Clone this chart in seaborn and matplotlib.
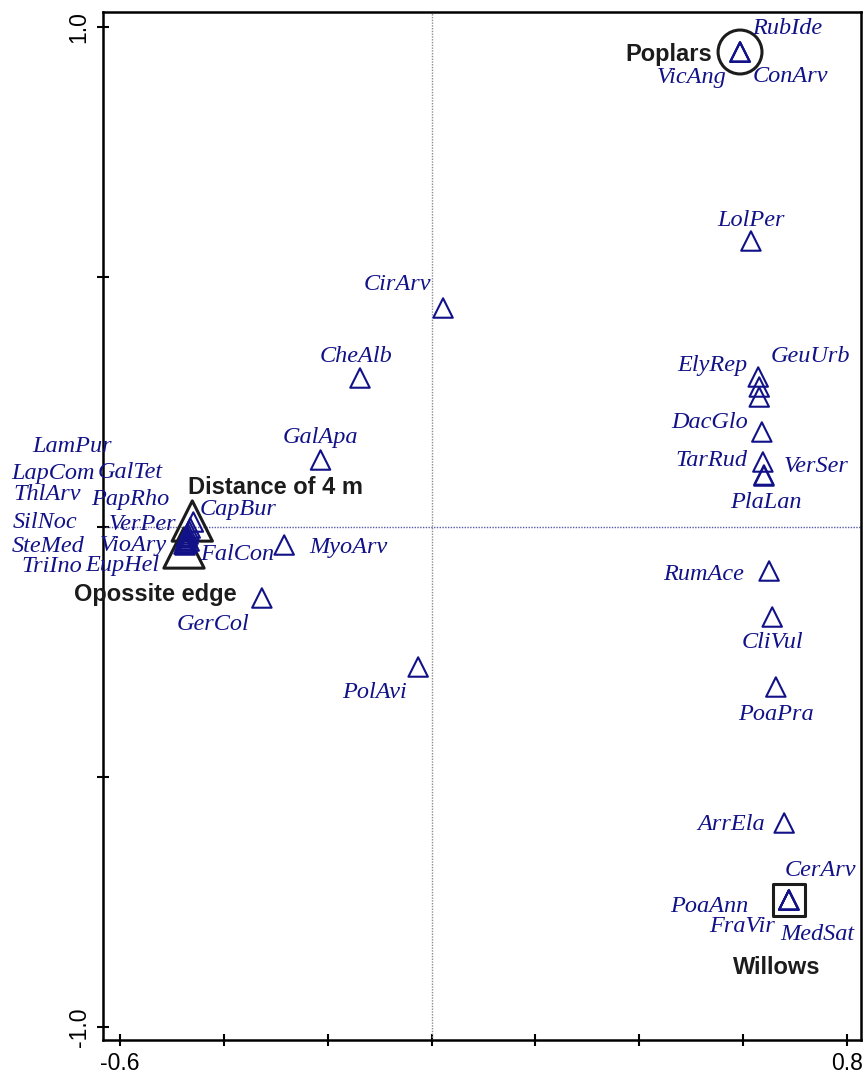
import matplotlib
matplotlib.use("Agg")
import matplotlib.pyplot as plt
import pandas as pd
import seaborn as sns

# species scores on the two ordination axes
species = ["RubIde", "VicAng", "ConArv", "LolPer", "CirArv", "CheAlb", "GalApa",
           "ElyRep", "GeuUrb", "", "DacGlo", "TarRud", "VerSer", "PlaLan",
           "RumAce", "CliVul", "PoaPra", "ArrEla", "CerArv", "PoaAnn", "FraVir",
           "MedSat", "PolAvi", "GerCol", "MyoArv",
           "CapBur", "VerPer", "PapRho", "GalTet", "LamPur", "LapCom", "ThlArv",
           "SilNoc", "SteMed", "VioAry", "EupHel", "TriIno", "FalCon"]
axis1 = [0.594, 0.594, 0.594, 0.615, 0.022, -0.138, -0.214,
         0.629, 0.631, 0.631, 0.636, 0.638, 0.640, 0.640,
         0.650, 0.656, 0.663, 0.679, 0.688, 0.688, 0.688,
         0.688, -0.026, -0.327, -0.284,
         -0.459, -0.465, -0.467, -0.469, -0.471, -0.471, -0.473,
         -0.473, -0.475, -0.471, -0.475, -0.477, -0.467]
axis2 = [0.950, 0.950, 0.950, 0.572, 0.438, 0.298, 0.134,
         0.300, 0.280, 0.260, 0.190, 0.130, 0.104, 0.102,
         -0.088, -0.180, -0.320, -0.592, -0.746, -0.746, -0.746,
         -0.746, -0.280, -0.142, -0.036,
         0.010, -0.002, -0.008, -0.014, -0.018, -0.022, -0.026,
         -0.020, -0.028, -0.032, -0.036, -0.034, -0.028]

# nominal variables (centroids)
groups = ["Poplars", "Willows", "Distance of 4 m", "Opossite edge"]
group_axis1 = [0.594, 0.688, -0.461, -0.477]
group_axis2 = [0.950, -0.746, 0.012, -0.042]

# label placement, offset in pixels from the point
sp_offsets = {
    "RubIde": (47, 23), "VicAng": (-48, -25), "ConArv": (50, -25),
    "LolPer": (0, 21), "CirArv": (-46, 23), "CheAlb": (-4, 21), "GalApa": (0, 22),
    "ElyRep": (-46, 11), "GeuUrb": (51, 30), "DacGlo": (-52, 9), "TarRud": (-51, 2),
    "VerSer": (52, 9), "PlaLan": (2, -27), "RumAce": (-66, -4), "CliVul": (0, -26),
    "PoaPra": (0, -27), "ArrEla": (-53, -2), "CerArv": (32, 30), "PoaAnn": (-80, -7),
    "FraVir": (-47, -26), "MedSat": (29, -34), "PolAvi": (-44, -26),
    "GerCol": (-49, -27), "MyoArv": (64, -3),
    "CapBur": (45, 12), "VerPer": (-48, 3), "PapRho": (-59, 31), "GalTet": (-58, 62),
    "LamPur": (-115, 89), "LapCom": (-134, 65), "ThlArv": (-139, 45),
    "SilNoc": (-141, 14), "SteMed": (-137, -6), "VioAry": (-54, -3),
    "EupHel": (-63, -21), "TriIno": (-132, -23), "FalCon": (48, -14),
}
grp_style = {
    "Poplars": ("o", 1000, (-28, -2), "right"),
    "Willows": ("s", 529, (-12, -67), "center"),
    "Distance of 4 m": ("^", 841, (-4, 34), "left"),
    "Opossite edge": ("^", 841, (53, -47), "right"),
}

navy = "#121288"
ink = "#1c1c1c"

sns.set_style("ticks")
plt.rcParams["font.family"] = ["Liberation Sans", "DejaVu Sans"]

sp = pd.DataFrame({"species": species, "ax1": axis1, "ax2": axis2})
gr = pd.DataFrame({"group": groups, "ax1": group_axis1, "ax2": group_axis2})

fig = plt.figure(figsize=(8.63, 10.79), dpi=100)
ax = fig.add_axes([103 / 863, 1 - 1040 / 1079, 758 / 863, 1028 / 1079])

ax.axvline(0, color="#8c8c8c", lw=1, ls=(0, (1, 1)), zorder=1)
ax.axhline(0, color="#5a5aa8", lw=1, ls=(0, (1, 1)), zorder=1)

for _, row in gr.iterrows():
    mk, size, off, ha = grp_style[row["group"]]
    sns.scatterplot(data=gr[gr["group"] == row["group"]], x="ax1", y="ax2", ax=ax,
                    marker=mk, s=size, facecolors="none", edgecolor=ink,
                    linewidth=2.2, zorder=2, legend=False)
    ax.annotate(row["group"], (row["ax1"], row["ax2"]), xytext=off,
                textcoords="offset pixels", ha=ha, va="center",
                fontsize=17, fontweight="bold", color=ink,
                annotation_clip=False, zorder=5)

sns.scatterplot(data=sp, x="ax1", y="ax2", ax=ax, marker="^", s=196,
                facecolors="none", edgecolor=navy, linewidth=1.5,
                zorder=3, legend=False)

for _, row in sp.iterrows():
    if not row["species"]:
        continue
    ax.annotate(row["species"], (row["ax1"], row["ax2"]),
                xytext=sp_offsets[row["species"]], textcoords="offset pixels",
                ha="center", va="center", fontsize=17.5, fontstyle="italic",
                family=["Liberation Serif", "DejaVu Serif"], color=navy,
                annotation_clip=False, zorder=4)

ax.set_xlim(-0.633, 0.827)
ax.set_ylim(-1.026, 1.03)
xt = [-0.6, -0.4, -0.2, 0.0, 0.2, 0.4, 0.6, 0.8]
yt = [-1.0, -0.5, 0.0, 0.5, 1.0]
ax.set_xticks(xt)
ax.set_xticklabels(["-0.6", "", "", "", "", "", "", "0.8"])
ax.set_yticks(yt)
ax.set_yticklabels(["-1.0", "", "", "", "1.0"], rotation=90, va="center")
ax.tick_params(direction="inout", length=8, width=1.5, labelsize=16.5,
               colors="black", pad=5)
ax.set_xlabel("")
ax.set_ylabel("")
for s in ax.spines.values():
    s.set_linewidth(1.8)
    s.set_color("black")

fig.savefig("out.png", dpi=100)
